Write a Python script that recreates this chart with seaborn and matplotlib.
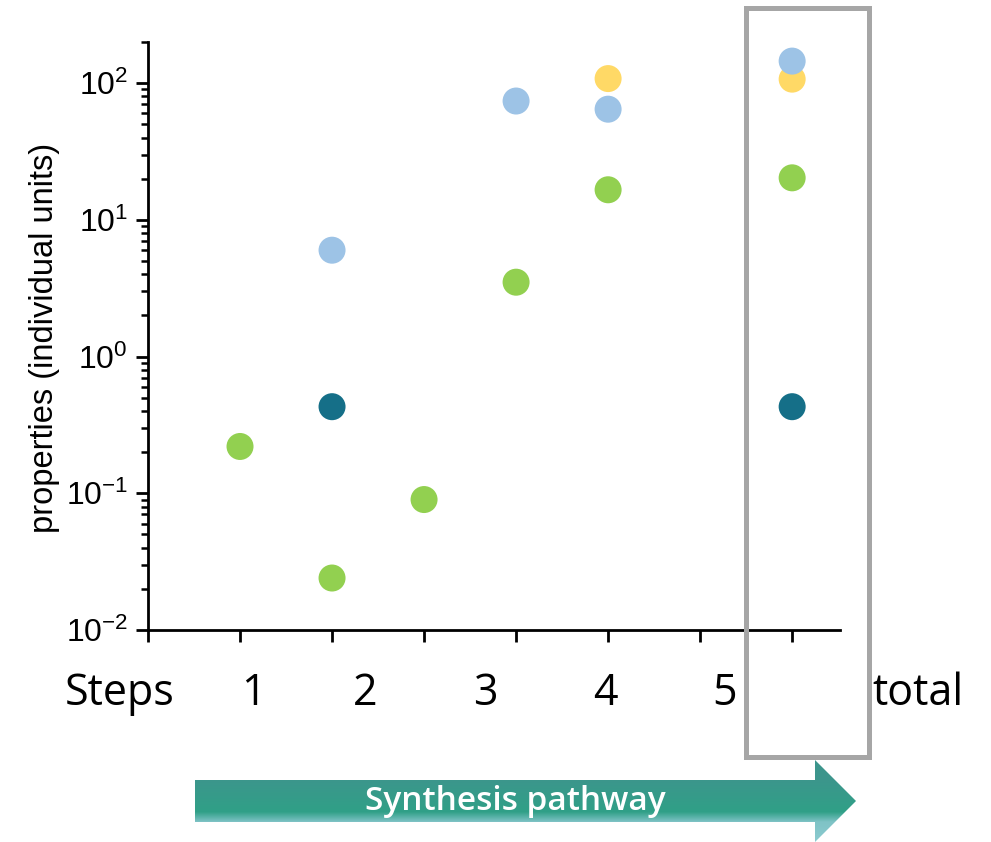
import numpy as np
import pandas as pd
import matplotlib
matplotlib.use("Agg")
import matplotlib.pyplot as plt
import seaborn as sns
from matplotlib.patches import Rectangle, Polygon
from matplotlib.ticker import NullFormatter, LogLocator

# ---------------- data ----------------
series_order = ["dark", "green", "yellow", "blue"]
dark_x = [2, 7]
dark_y = [0.43, 0.43]
green_x = [1, 2, 3, 4, 5, 7]
green_y = [0.22, 0.024, 0.09, 3.5, 16.6, 20.3]
yellow_x = [5, 7]
yellow_y = [108, 107]
blue_x = [2, 4, 5, 7]
blue_y = [6.0, 74, 64.5, 145]
step_labels = ["Steps", "1", "2", "3", "4", "5", "total"]
y_ticks = [1e-2, 1e-1, 1e0, 1e1, 1e2]
y_label = "properties (individual units)"
arrow_label = "Synthesis pathway"

palette = {"dark": "#156F88", "green": "#92D050", "yellow": "#FFD966", "blue": "#9DC3E6"}

df = pd.concat([
    pd.DataFrame({"x": dark_x, "y": dark_y, "series": "dark"}),
    pd.DataFrame({"x": green_x, "y": green_y, "series": "green"}),
    pd.DataFrame({"x": yellow_x, "y": yellow_y, "series": "yellow"}),
    pd.DataFrame({"x": blue_x, "y": blue_y, "series": "blue"}),
], ignore_index=True)

# ---------------- style ----------------
sns.set_theme(style="ticks")
plt.rcParams["font.family"] = ["Liberation Sans", "DejaVu Sans"]
plt.rcParams["axes.unicode_minus"] = False
plt.rcParams["mathtext.default"] = "regular"
for key in ["text.color", "axes.labelcolor", "xtick.color", "ytick.color", "axes.edgecolor"]:
    plt.rcParams[key] = "black"

W, H = 991, 842
fig = plt.figure(figsize=(W / 100, H / 100), dpi=100)
fig.patch.set_facecolor("white")

ax = fig.add_axes([148 / W, 1 - 630 / H, (840 - 148) / W, (630 - 42) / H])
sns.scatterplot(data=df, x="x", y="y", hue="series", hue_order=series_order,
                palette=palette, s=378, linewidth=0, edgecolor="none",
                legend=False, ax=ax, zorder=3, clip_on=False)
ax.set_yscale("log")
ax.set_ylim(0.01, 200)
ax.set_xlim(0, 7.52)
ax.set_xticks(range(8))
ax.set_xticklabels([])
ax.set_yticks(y_ticks)
ax.yaxis.set_minor_locator(LogLocator(base=10, subs=np.arange(2, 10)))
ax.yaxis.set_minor_formatter(NullFormatter())
ax.set_xlabel("")
ax.set_ylabel(y_label, fontsize=23.5, color="black")
ax.yaxis.set_label_coords(-0.127, 0.497)
sns.despine(ax=ax)
for sp in ["left", "bottom"]:
    ax.spines[sp].set_linewidth(2.0)
    ax.spines[sp].set_color("black")
ax.tick_params(axis="both", which="major", length=8.5, width=2.0, color="black")
ax.tick_params(axis="y", which="major", labelsize=23, pad=6, labelcolor="black")
ax.tick_params(axis="y", which="minor", length=5, width=1.8, color="black")
ax.tick_params(axis="x", which="minor", length=0)
ax.set_facecolor("white")

# ---------------- overlay (annotations) ----------------
oax = fig.add_axes([0, 0, 1, 1], zorder=5)
oax.set_xlim(0, W)
oax.set_ylim(H, 0)
oax.axis("off")
oax.patch.set_alpha(0)

label_x = [120, 253, 365, 485, 605, 725, 918]
for lx, lab in zip(label_x, step_labels):
    oax.text(lx, 705, lab, fontsize=31, family=["Open Sans", "DejaVu Sans"],
             ha="center", va="baseline", color="black")

# gradient arrow
verts = [(195, 780), (815, 780), (815, 760), (856, 801), (815, 842), (815, 822), (195, 822)]
poly = Polygon(verts, closed=True, facecolor="none", edgecolor="none")
oax.add_patch(poly)
ys = np.arange(760, 843)
stops_y = [760, 780, 812, 822, 842]
cols = np.array([[0x3C, 0x95, 0x8C], [0x3C, 0x96, 0x8C], [0x30, 0xA0, 0x87],
                 [0x7F, 0xC3, 0xC6], [0x8C, 0xCB, 0xD0]]) / 255.0
grad = np.stack([np.interp(ys, stops_y, cols[:, i]) for i in range(3)], axis=-1)
img = oax.imshow(grad[:, None, :], extent=(195, 856, 842.5, 759.5), aspect="auto",
                 origin="upper", interpolation="bilinear")
img.set_clip_path(poly)
oax.set_xlim(0, W)
oax.set_ylim(H, 0)
oax.text(515, 801, arrow_label, fontsize=24, fontweight="semibold",
         family=["Open Sans", "DejaVu Sans"],
         color="white", ha="center", va="center")

# gray highlight box
oax.add_patch(Rectangle((745.5, 8), 869 - 745.5, 757 - 8, fill=False,
                        edgecolor="#A6A6A6", linewidth=3.6))

fig.savefig("out.png", dpi=100, facecolor="white")
